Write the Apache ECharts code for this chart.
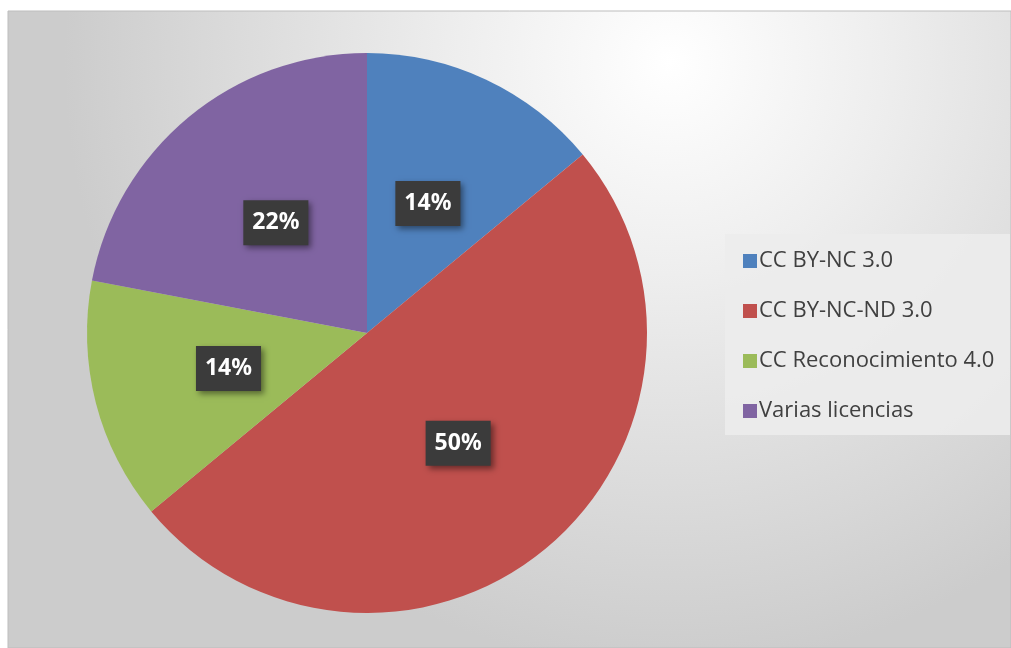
<!DOCTYPE html>
<html>
<head>
<meta charset="utf-8">
<script src="https://cdn.jsdelivr.net/npm/echarts@6/dist/echarts.min.js"></script>
<style>
  html, body { margin: 0; padding: 0; background: #fff; }
  #chart { width: 1011px; height: 648px; }
</style>
</head>
<body>
<div id="chart"></div>
<script>
// datos del gráfico
var licencias = ['CC BY-NC 3.0', 'CC BY-NC-ND 3.0', 'CC Reconocimiento 4.0', 'Varias licencias'];
var porcentajes = [14, 50, 14, 22];
var colores = ['#4f81bd', '#c0504d', '#9bbb59', '#8064a2'];

var datos = [];
for (var i = 0; i < licencias.length; i++) {
  datos.push({ name: licencias[i], value: porcentajes[i], itemStyle: { color: colores[i] } });
}

var myChart = echarts.init(document.getElementById('chart'));
var option = {
  animation: false,
  graphic: [
    {
      // fondo con degradado
      type: 'rect', z: -10, silent: true,
      shape: { x: 8, y: 11, width: 1003, height: 637 },
      style: {
        fill: {
          type: 'radial', x: 0.66, y: 0.08, r: 0.95,
          colorStops: [{ offset: 0, color: '#ffffff' }, { offset: 0.35, color: '#eeeeee' }, { offset: 1, color: '#cccccc' }]
        },
        stroke: '#bdbdbd', lineWidth: 1
      }
    },
    {
      // caja de la leyenda
      type: 'rect', z: -5, silent: true,
      shape: { x: 725, y: 234, width: 285, height: 201 },
      style: { fill: 'rgba(236,236,236,0.9)' }
    }
  ],
  legend: {
    orient: 'vertical',
    left: 738,
    top: 245,
    itemWidth: 14,
    itemHeight: 14,
    itemGap: 28,
    icon: 'rect',
    data: licencias,
    textStyle: { fontFamily: 'Open Sans', fontSize: 22, lineHeight: 20, color: '#404040', padding: [0, 0, 0, -3] }
  },
  series: [
    {
      type: 'pie',
      center: [367, 333],
      radius: 280,
      startAngle: 90,
      clockwise: true,
      data: datos,
      label: {
        position: 'inner',
        formatter: '{d}%',
        fontFamily: 'Noto Sans',
        fontWeight: 'bold',
        fontSize: 23,
        color: '#fff',
        backgroundColor: '#3b3b3b',
        padding: [11, 9, 11, 9],
        shadowBlur: 6,
        shadowColor: 'rgba(0,0,0,0.45)',
        shadowOffsetX: 3,
        shadowOffsetY: 3
      },
      labelLine: { show: false },
      emphasis: { disabled: true }
    }
  ]
};
myChart.setOption(option);
</script>
</body>
</html>
